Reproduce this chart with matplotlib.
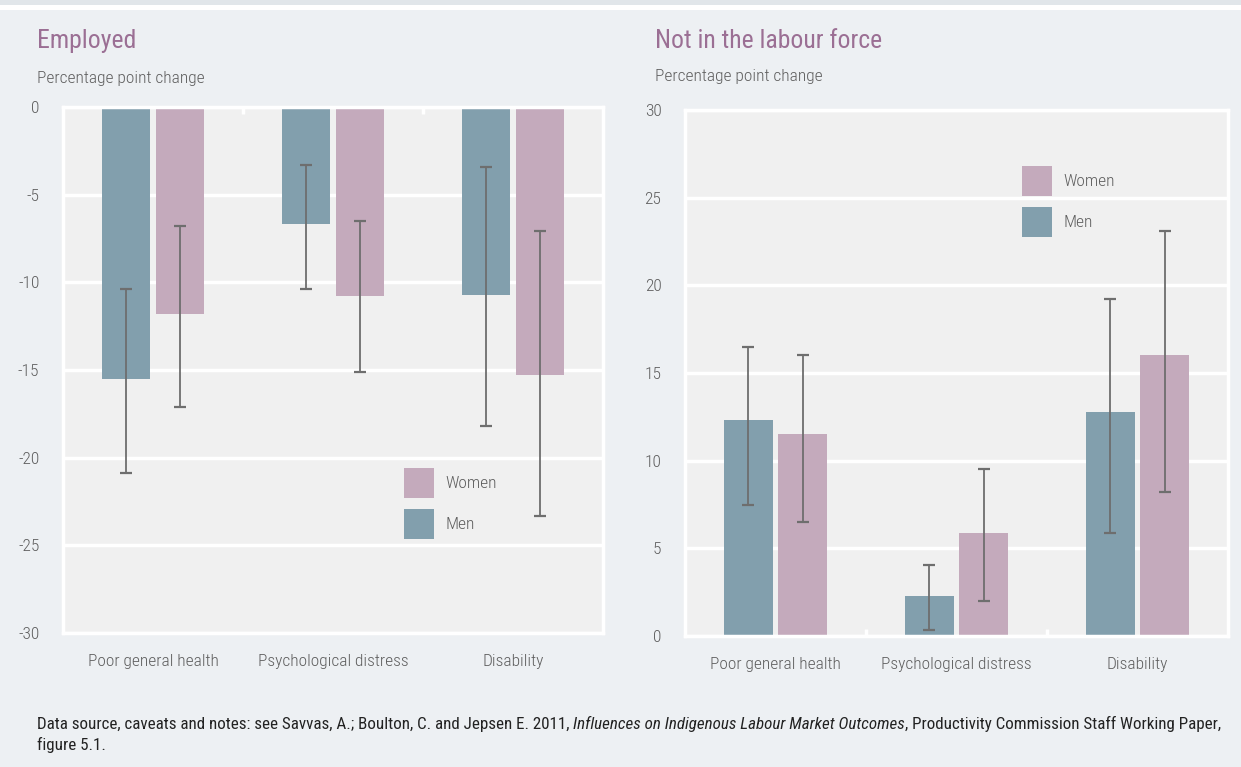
import matplotlib
matplotlib.use("Agg")
import matplotlib.pyplot as plt
import matplotlib.patches as mpatches
from matplotlib import font_manager as fm
import numpy as np

available = {f.name for f in fm.fontManager.ttflist}
FONT = "Roboto"
for cand in ["Roboto Condensed", "Liberation Sans Narrow", "Archivo Narrow", "PT Sans Narrow",
             "IBM Plex Sans Condensed", "Open Sans Condensed"]:
    if cand in available:
        FONT = cand
        break
plt.rcParams['font.family'] = [FONT, 'Roboto', 'DejaVu Sans']

categories = ["Poor general health", "Psychological distress", "Disability"]

emp_men = [-15.5, -6.7, -10.7]
emp_men_lo = [-20.9, -10.4, -18.2]
emp_men_hi = [-10.4, -3.3, -3.4]
emp_women = [-11.8, -10.8, -15.3]
emp_women_lo = [-17.1, -15.1, -23.3]
emp_women_hi = [-6.8, -6.5, -7.1]

nilf_men = [12.3, 2.3, 12.8]
nilf_men_lo = [7.5, 0.35, 5.9]
nilf_men_hi = [16.5, 4.05, 19.2]
nilf_women = [11.5, 5.9, 16.0]
nilf_women_lo = [6.5, 2.0, 8.2]
nilf_women_hi = [16.0, 9.5, 23.1]

emp_ticks = [0, -5, -10, -15, -20, -25, -30]
nilf_ticks = [0, 5, 10, 15, 20, 25, 30]

MEN = "#829FAD"
WOMEN = "#C4AABC"
BG = "#EDF0F3"
PLOT_BG = "#F0F0F0"
TITLE_C = "#9B6F94"
TEXT_C = "#5E5E5E"
ERR_C = "#6E6E6E"
LIGHT = "light"

W, H = 1241, 767
fig = plt.figure(figsize=(W / 100, H / 100), dpi=100, facecolor=BG)

fig.patches.append(mpatches.Rectangle((0, 1 - 5 / H), 1, 5 / H, transform=fig.transFigure,
                                      facecolor="#E1E6EA", edgecolor="none", zorder=0))
fig.patches.append(mpatches.Rectangle((0, 1 - 10 / H), 1, 5 / H, transform=fig.transFigure,
                                      facecolor="white", edgecolor="none", zorder=0))


def px_axes(l, t, r, b):
    return fig.add_axes([l / W, 1 - b / H, (r - l) / W, (b - t) / H])


def style(ax, ticks, lim, boundary_top):
    ax.set_facecolor(PLOT_BG)
    for s in ax.spines.values():
        s.set_color("white")
        s.set_linewidth(2.5)
    ax.set_ylim(*lim)
    ax.set_yticks(ticks)
    ax.set_yticklabels([str(t) for t in ticks], fontweight=LIGHT)
    ax.set_xlim(-0.5, 2.5)
    ax.set_xticks(range(len(categories)))
    ax.set_xticklabels(categories, fontweight=LIGHT)
    ax.tick_params(axis="both", length=0, labelsize=12.5, colors=TEXT_C)
    ax.tick_params(axis="y", pad=17)
    ax.tick_params(axis="x", pad=15)
    ax.grid(axis="y", color="white", linewidth=2.5)
    ax.set_axisbelow(True)
    ax.set_xticks([0.5, 1.5], minor=True)
    ax.tick_params(axis="x", which="minor", top=boundary_top, bottom=not boundary_top,
                   direction="in", length=5, width=2.5, color="white")


def draw(ax, men, mlo, mhi, women, wlo, whi):
    x = np.arange(len(categories))
    bw = 0.27
    off = 0.15
    ax.bar(x - off, men, bw, color=MEN, zorder=2, label="Men")
    ax.bar(x + off, women, bw, color=WOMEN, zorder=2, label="Women")
    for xs, v, lo, hi in [(x - off, men, mlo, mhi), (x + off, women, wlo, whi)]:
        v = np.array(v)
        err = np.vstack([v - np.array(lo), np.array(hi) - v])
        ax.errorbar(xs, v, yerr=err, fmt="none", ecolor=ERR_C, elinewidth=1.3,
                    capsize=4.5, capthick=1.6, zorder=3)


ax1 = px_axes(63, 107, 603, 633)
style(ax1, emp_ticks, (-30, 0), True)
draw(ax1, emp_men, emp_men_lo, emp_men_hi, emp_women, emp_women_lo, emp_women_hi)

ax2 = px_axes(685, 110, 1228, 636)
style(ax2, nilf_ticks, (0, 30), False)
draw(ax2, nilf_men, nilf_men_lo, nilf_men_hi, nilf_women, nilf_women_lo, nilf_women_hi)

for ax, ax_l, ax_t, ax_w, leg_l, leg_t in [(ax1, 63, 107, 540, 404, 468), (ax2, 685, 110, 543, 1022, 166)]:
    h, l = ax.get_legend_handles_labels()
    order = [1, 0]
    leg = ax.legend([h[i] for i in order], [l[i] for i in order], frameon=False,
                    handlelength=1.75, handleheight=2.3, fontsize=12.5, labelcolor=TEXT_C,
                    handletextpad=0.65, labelspacing=0.6, borderpad=0, borderaxespad=0,
                    loc="upper left", prop={"weight": LIGHT, "size": 12.5},
                    bbox_to_anchor=((leg_l - ax_l) / ax_w, 1 - (leg_t - ax_t) / 526))

fig.text(37 / W, 1 - 41 / H, "Employed", fontsize=18.5, color=TITLE_C, va="center", ha="left")
fig.text(37 / W, 1 - 78 / H, "Percentage point change", fontsize=12.5, color=TEXT_C, va="center",
         ha="left", fontweight=LIGHT)
fig.text(655 / W, 1 - 41 / H, "Not in the labour force", fontsize=18.5, color=TITLE_C, va="center", ha="left")
fig.text(655 / W, 1 - 76 / H, "Percentage point change", fontsize=12.5, color=TEXT_C, va="center",
         ha="left", fontweight=LIGHT)

# note line, fitted to reference width (37 -> 1224 px)
NOTE_C = "#222222"
parts = [("Data source, caveats and notes: see Savvas, A.; Boulton, C. and Jepsen E. 2011, ", "normal"),
         ("Influences on Indigenous Labour Market Outcomes", "italic"),
         (", Productivity Commission Staff Working Paper,", "normal")]


def place_note(fs):
    objs = []
    x = 37
    for txt, st in parts:
        t = fig.text(x / W, 1 - 724 / H, txt, fontsize=fs, color=NOTE_C, va="center",
                     ha="left", style=st)
        fig.canvas.draw()
        x = t.get_window_extent().x1
        objs.append(t)
    return objs, x


objs, xend = place_note(11)
for o in objs:
    o.remove()
fs = 11 * (1224 - 37) / (xend - 37)
place_note(fs)
fig.text(37 / W, 1 - 745 / H, "figure 5.1.", fontsize=fs, color=NOTE_C, va="center", ha="left")

fig.savefig("out.png", dpi=100, facecolor=BG)
